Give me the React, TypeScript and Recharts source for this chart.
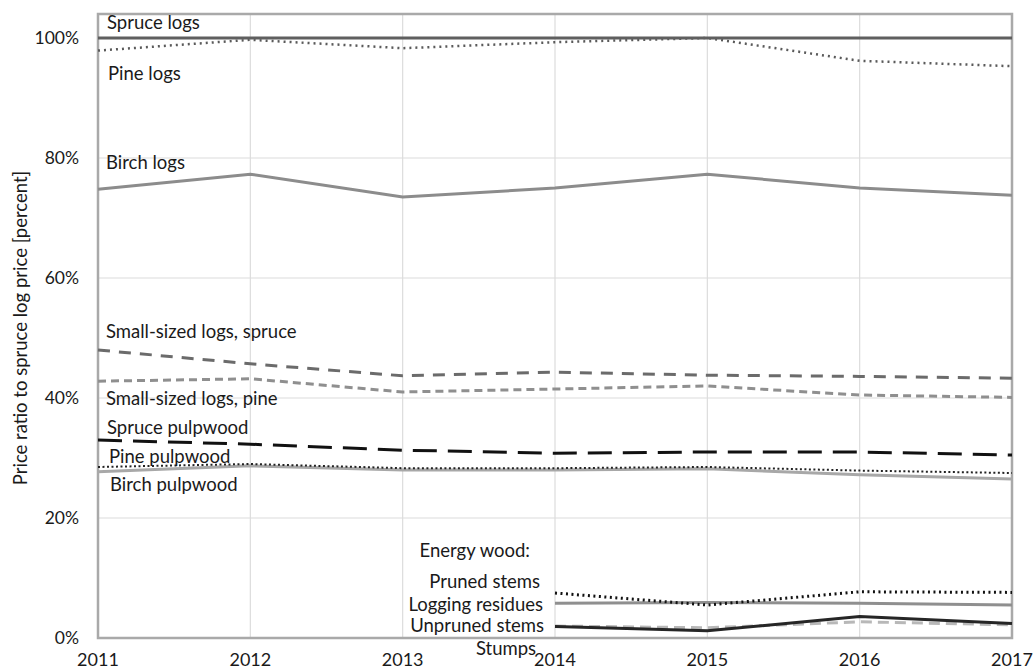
import React from 'react';
import {
  LineChart,
  Line,
  XAxis,
  YAxis,
  CartesianGrid,
  ReferenceArea,
  ReferenceDot,
} from 'recharts';

const years = [2011, 2012, 2013, 2014, 2015, 2016, 2017];

const spruceLogs = [1.0, 1.0, 1.0, 1.0, 1.0, 1.0, 1.0];
const pineLogs = [0.979, 0.997, 0.983, 0.993, 1.0, 0.962, 0.953];
const birchLogs = [0.748, 0.773, 0.735, 0.75, 0.773, 0.75, 0.738];
const smallSpruce = [0.48, 0.457, 0.437, 0.443, 0.438, 0.436, 0.433];
const smallPine = [0.428, 0.432, 0.41, 0.415, 0.42, 0.405, 0.401];
const sprucePulp = [0.33, 0.323, 0.313, 0.308, 0.31, 0.31, 0.305];
const pinePulp = [0.285, 0.29, 0.283, 0.283, 0.285, 0.279, 0.275];
const birchPulp = [0.277, 0.287, 0.28, 0.28, 0.282, 0.272, 0.265];
const prunedStems = [null, null, null, 0.075, 0.055, 0.077, 0.076];
const loggingResidues = [null, null, null, 0.058, 0.059, 0.058, 0.055];
const unprunedStems = [null, null, null, 0.019, 0.012, 0.036, 0.024];
const stumps = [null, null, null, 0.02, 0.017, 0.027, 0.022];

const yTicks = [0, 0.2, 0.4, 0.6, 0.8, 1.0];

const series = [
  { key: 'pineLogs', values: pineLogs, stroke: '#5a5a5a', width: 2.5, dash: '2 4' },
  { key: 'spruceLogs', values: spruceLogs, stroke: '#5f5f5f', width: 3, dash: undefined },
  { key: 'birchLogs', values: birchLogs, stroke: '#8c8c8c', width: 3, dash: undefined },
  { key: 'smallSpruce', values: smallSpruce, stroke: '#6b6b6b', width: 3, dash: '12 9' },
  { key: 'smallPine', values: smallPine, stroke: '#8f8f8f', width: 3, dash: '8 5' },
  { key: 'sprucePulp', values: sprucePulp, stroke: '#111111', width: 3, dash: '24 11' },
  { key: 'birchPulp', values: birchPulp, stroke: '#a8a8a8', width: 3, dash: undefined },
  { key: 'pinePulp', values: pinePulp, stroke: '#222222', width: 2, dash: '2 2.5' },
  { key: 'loggingResidues', values: loggingResidues, stroke: '#8f8f8f', width: 3, dash: undefined },
  { key: 'prunedStems', values: prunedStems, stroke: '#111111', width: 3, dash: '2 3.5' },
  { key: 'stumps', values: stumps, stroke: '#b8b8b8', width: 3, dash: '11 6' },
  { key: 'unprunedStems', values: unprunedStems, stroke: '#262626', width: 3, dash: undefined },
];

// annotation texts and where they sit (data coords + pixel nudge)
const annotations = [
  { text: 'Spruce logs', x: 2011, y: 1.027, dx: 9, anchor: 'start' },
  { text: 'Pine logs', x: 2011, y: 0.942, dx: 10, anchor: 'start' },
  { text: 'Birch logs', x: 2011, y: 0.793, dx: 8, anchor: 'start' },
  { text: 'Small-sized logs, spruce', x: 2011, y: 0.512, dx: 8, anchor: 'start' },
  { text: 'Small-sized logs, pine', x: 2011, y: 0.4, dx: 8, anchor: 'start' },
  { text: 'Spruce pulpwood', x: 2011, y: 0.352, dx: 9, anchor: 'start' },
  { text: 'Pine pulpwood', x: 2011, y: 0.303, dx: 11, anchor: 'start' },
  { text: 'Birch pulpwood', x: 2011, y: 0.257, dx: 12, anchor: 'start' },
  { text: 'Energy wood:', x: 2014, y: 0.147, dx: -25, anchor: 'end' },
  { text: 'Pruned stems', x: 2014, y: 0.095, dx: -15, anchor: 'end' },
  { text: 'Logging residues', x: 2014, y: 0.057, dx: -12, anchor: 'end' },
  { text: 'Unpruned stems', x: 2014, y: 0.022, dx: -11, anchor: 'end' },
  { text: 'Stumps', x: 2014, y: -0.017, dx: -49, anchor: 'middle' },
];

const data = years.map((year, i) => {
  const row: Record<string, number | null> = { year };
  series.forEach((s) => {
    row[s.key] = s.values[i];
  });
  return row;
});

const FONT = 'Lato, "Open Sans", sans-serif';

const AnnotationLabel = (props: any) => {
  const { viewBox, text, dx, anchor } = props;
  const cx = viewBox.x + viewBox.width / 2;
  const cy = viewBox.y + viewBox.height / 2;
  return (
    <text
      x={cx + dx}
      y={cy}
      textAnchor={anchor}
      dominantBaseline="central"
      fontFamily={FONT}
      fontSize={18.5}
      fill="#1a1a1a"
    >
      {text}
    </text>
  );
};

const YTitle = (props: any) => {
  const { viewBox } = props;
  const x = 20;
  const y = viewBox.y + viewBox.height / 2 + 2;
  return (
    <text
      x={x}
      y={y}
      transform={`rotate(-90, ${x}, ${y})`}
      textAnchor="middle"
      dominantBaseline="central"
      fontFamily={FONT}
      fontSize={18.5}
      fill="#1a1a1a"
    >
      Price ratio to spruce log price [percent]
    </text>
  );
};

export default function App() {
  return (
    <div style={{ position: 'absolute', left: 0, top: 0, background: '#fff' }}>
      <LineChart
        width={1035}
        height={671}
        data={data}
        margin={{ top: 14, right: 23, bottom: 0, left: 0 }}
      >
        <CartesianGrid stroke="#dcdcdc" strokeWidth={1.2} />
        <XAxis
          dataKey="year"
          type="number"
          domain={[2011, 2017]}
          ticks={years}
          axisLine={false}
          tickLine={false}
          height={33}
          tickMargin={9}
          tick={{ fontFamily: FONT, fontSize: 18, fill: '#1a1a1a' }}
        />
        <YAxis
          type="number"
          domain={[0, 1.04]}
          ticks={yTicks}
          axisLine={false}
          tickLine={false}
          width={98}
          tickMargin={13}
          tickFormatter={(v: number) => `${Math.round(v * 100)}%`}
          tick={{ fontFamily: FONT, fontSize: 17.5, fill: '#1a1a1a' }}
          label={<YTitle />}
        />
        <ReferenceArea
          x1={2011}
          x2={2017}
          y1={0}
          y2={1.04}
          fill="none"
          fillOpacity={0}
          stroke="#a9a9a9"
          strokeWidth={2.5}
        />
        {series.map((s) => (
          <Line
            key={s.key}
            dataKey={s.key}
            type="linear"
            stroke={s.stroke}
            strokeWidth={s.width}
            strokeDasharray={s.dash}
            dot={false}
            activeDot={false}
            isAnimationActive={false}
          />
        ))}
        {annotations.map((a) => (
          <ReferenceDot
            key={a.text}
            x={a.x}
            y={a.y}
            r={1}
            fill="none"
            stroke="none"
            ifOverflow="visible"
            label={<AnnotationLabel text={a.text} dx={a.dx} anchor={a.anchor} />}
          />
        ))}
      </LineChart>
    </div>
  );
}
